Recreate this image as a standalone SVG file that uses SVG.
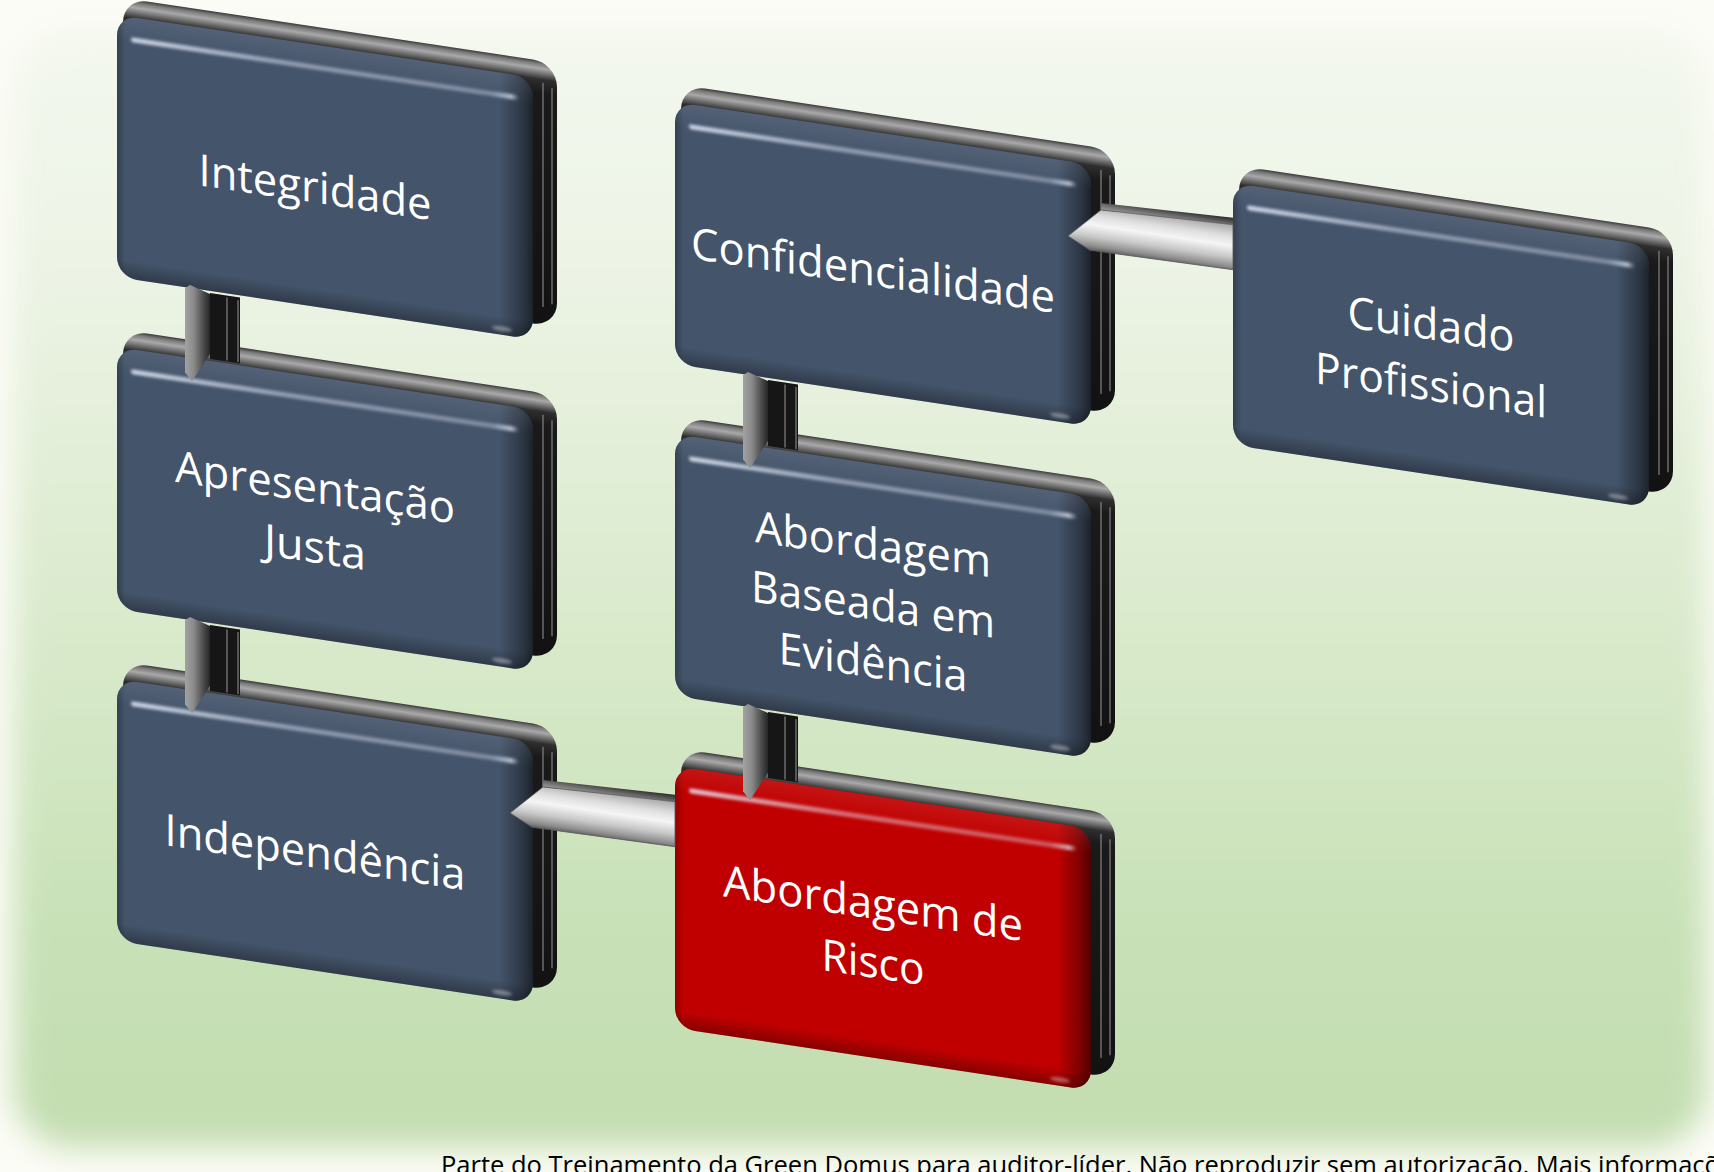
<svg xmlns="http://www.w3.org/2000/svg" width="1714" height="1172" viewBox="0 0 1714 1172">
<defs>
<style>
.slab{fill:url(#slabGrad);}
.stripe{stroke:#8c8c8c;stroke-width:1.3;fill:none;opacity:0.85;}
.blue{fill:#44546A;}
.red{fill:#C00000;}
.shade-x{fill:url(#shadeX);}
.shade-y{fill:url(#shadeY);}
.hl{fill:url(#hlGrad);filter:url(#hlBlur);}
.spot{fill:#ffffff;opacity:0.35;filter:url(#hlBlur);}
.label{font-family:"Open Sans","Noto Sans","DejaVu Sans",sans-serif;font-size:44px;fill:#ffffff;text-anchor:middle;}
.footer{font-family:"Open Sans","Noto Sans","DejaVu Sans",sans-serif;font-size:25.5px;fill:#000000;}
.vside{fill:#161616;}
.vfront{fill:url(#vFrontGrad);}
.htop{fill:url(#hTopGrad);}
.hfront{fill:url(#hFrontGrad);stroke:#5a5a5a;stroke-width:0.8;}
</style>
<linearGradient id="bgGrad" x1="0" y1="0" x2="0" y2="1">
<stop offset="0" stop-color="#F4F8EF"/>
<stop offset="0.2" stop-color="#EDF4E6"/>
<stop offset="0.5" stop-color="#DCEBCF"/>
<stop offset="0.8" stop-color="#C8E1B7"/>
<stop offset="1" stop-color="#C3DDB0"/>
</linearGradient>
<filter id="soft" x="-5%" y="-5%" width="110%" height="110%">
<feGaussianBlur stdDeviation="16"/>
</filter>
<filter id="hlBlur" x="-10%" y="-100%" width="120%" height="300%">
<feGaussianBlur stdDeviation="1.4"/>
</filter>
<linearGradient id="slabGrad" gradientUnits="userSpaceOnUse" x1="0" y1="0" x2="0" y2="270">
<stop offset="0" stop-color="#3a3a3a"/>
<stop offset="0.012" stop-color="#7a7a7a"/>
<stop offset="0.03" stop-color="#a9a9a9"/>
<stop offset="0.05" stop-color="#6c6c6c"/>
<stop offset="0.07" stop-color="#2e2e2e"/>
<stop offset="0.12" stop-color="#1a1a1a"/>
<stop offset="1" stop-color="#121212"/>
</linearGradient>
<linearGradient id="shadeX" x1="0" y1="0" x2="1" y2="0">
<stop offset="0" stop-color="#000" stop-opacity="0.25"/>
<stop offset="0.02" stop-color="#000" stop-opacity="0"/>
<stop offset="0.92" stop-color="#000" stop-opacity="0"/>
<stop offset="0.975" stop-color="#000" stop-opacity="0.35"/>
<stop offset="1" stop-color="#000" stop-opacity="0.6"/>
</linearGradient>
<linearGradient id="shadeY" x1="0" y1="0" x2="0" y2="1">
<stop offset="0" stop-color="#fff" stop-opacity="0.08"/>
<stop offset="0.1" stop-color="#fff" stop-opacity="0"/>
<stop offset="0.93" stop-color="#000" stop-opacity="0"/>
<stop offset="1" stop-color="#000" stop-opacity="0.3"/>
</linearGradient>
<linearGradient id="hlGrad" x1="0" y1="0" x2="1" y2="0">
<stop offset="0" stop-color="#e8f0ff" stop-opacity="0.8"/>
<stop offset="0.4" stop-color="#e8f0ff" stop-opacity="0.45"/>
<stop offset="0.93" stop-color="#e8f0ff" stop-opacity="0.35"/>
<stop offset="0.98" stop-color="#e8f0ff" stop-opacity="0.7"/>
<stop offset="1" stop-color="#e8f0ff" stop-opacity="0"/>
</linearGradient>
<linearGradient id="vFrontGrad" x1="0" y1="0" x2="1" y2="0">
<stop offset="0" stop-color="#a2a2a2"/>
<stop offset="0.35" stop-color="#8a8a8a"/>
<stop offset="0.75" stop-color="#4a4a4a"/>
<stop offset="1" stop-color="#262626"/>
</linearGradient>
<linearGradient id="hTopGrad" x1="0" y1="0" x2="0" y2="1">
<stop offset="0" stop-color="#2a2a2a"/>
<stop offset="0.55" stop-color="#6a6a6a"/>
<stop offset="1" stop-color="#9a9a9a"/>
</linearGradient>
<linearGradient id="hFrontGrad" x1="0" y1="0" x2="0" y2="1">
<stop offset="0" stop-color="#a8a8a8"/>
<stop offset="0.25" stop-color="#dedede"/>
<stop offset="0.45" stop-color="#f5f5f5"/>
<stop offset="0.7" stop-color="#c8c8c8"/>
<stop offset="0.9" stop-color="#8e8e8e"/>
<stop offset="1" stop-color="#5e5e5e"/>
</linearGradient>
</defs>

<rect x="0" y="0" width="1714" height="1172" fill="#FCFCF6"/>
<g id="background">
<rect x="13" y="27" width="1694" height="1121" rx="60" fill="url(#bgGrad)" filter="url(#soft)"/>
</g>

<g id="nodes">
<g id="n-integridade" transform="matrix(1 0.15 0 1 117 -3)">
<rect class="slab" x="6" y="0" width="434" height="264" rx="24"/>
<path class="stripe" d="M426 22V246M435 26V242"/>
<rect class="blue" x="0" y="18" width="416" height="262" rx="20"/>
<rect class="shade-x" x="0" y="18" width="416" height="262" rx="20"/>
<rect class="shade-y" x="0" y="18" width="416" height="262" rx="20"/>
<rect class="hl" x="14" y="38" width="388" height="5" rx="2.5"/>
<ellipse class="spot" cx="385" cy="274" rx="10" ry="2.5"/>
<text class="label" x="198" y="176" textLength="233" lengthAdjust="spacingAndGlyphs">Integridade</text>
</g>

<g id="n-apresentacao" transform="matrix(1 0.15 0 1 117 329)">
<rect class="slab" x="6" y="0" width="434" height="264" rx="24"/>
<path class="stripe" d="M426 22V246M435 26V242"/>
<rect class="blue" x="0" y="18" width="416" height="262" rx="20"/>
<rect class="shade-x" x="0" y="18" width="416" height="262" rx="20"/>
<rect class="shade-y" x="0" y="18" width="416" height="262" rx="20"/>
<rect class="hl" x="14" y="38" width="388" height="5" rx="2.5"/>
<ellipse class="spot" cx="385" cy="274" rx="10" ry="2.5"/>
<text class="label" x="198" y="144" textLength="280" lengthAdjust="spacingAndGlyphs">Apresentação</text>
<text class="label" x="198" y="204" textLength="102" lengthAdjust="spacingAndGlyphs">Justa</text>
</g>

<g id="n-independencia" transform="matrix(1 0.15 0 1 117 661)">
<rect class="slab" x="6" y="0" width="434" height="264" rx="24"/>
<path class="stripe" d="M426 22V246M435 26V242"/>
<rect class="blue" x="0" y="18" width="416" height="262" rx="20"/>
<rect class="shade-x" x="0" y="18" width="416" height="262" rx="20"/>
<rect class="shade-y" x="0" y="18" width="416" height="262" rx="20"/>
<rect class="hl" x="14" y="38" width="388" height="5" rx="2.5"/>
<ellipse class="spot" cx="385" cy="274" rx="10" ry="2.5"/>
<text class="label" x="198" y="177" textLength="301" lengthAdjust="spacingAndGlyphs">Independência</text>
</g>

<g id="n-confidencialidade" transform="matrix(1 0.15 0 1 675 84)">
<rect class="slab" x="6" y="0" width="434" height="264" rx="24"/>
<path class="stripe" d="M426 22V246M435 26V242"/>
<rect class="blue" x="0" y="18" width="416" height="262" rx="20"/>
<rect class="shade-x" x="0" y="18" width="416" height="262" rx="20"/>
<rect class="shade-y" x="0" y="18" width="416" height="262" rx="20"/>
<rect class="hl" x="14" y="38" width="388" height="5" rx="2.5"/>
<ellipse class="spot" cx="385" cy="274" rx="10" ry="2.5"/>
<text class="label" x="198" y="172" textLength="364" lengthAdjust="spacingAndGlyphs">Confidencialidade</text>
</g>

<g id="n-abordagem-evidencia" transform="matrix(1 0.15 0 1 675 416)">
<rect class="slab" x="6" y="0" width="434" height="264" rx="24"/>
<path class="stripe" d="M426 22V246M435 26V242"/>
<rect class="blue" x="0" y="18" width="416" height="262" rx="20"/>
<rect class="shade-x" x="0" y="18" width="416" height="262" rx="20"/>
<rect class="shade-y" x="0" y="18" width="416" height="262" rx="20"/>
<rect class="hl" x="14" y="38" width="388" height="5" rx="2.5"/>
<ellipse class="spot" cx="385" cy="274" rx="10" ry="2.5"/>
<text class="label" x="198" y="114" textLength="236" lengthAdjust="spacingAndGlyphs">Abordagem</text>
<text class="label" x="198" y="174" textLength="244" lengthAdjust="spacingAndGlyphs">Baseada em</text>
<text class="label" x="198" y="232" textLength="189" lengthAdjust="spacingAndGlyphs">Evidência</text>
</g>

<g id="n-abordagem-risco" transform="matrix(1 0.15 0 1 675 748)">
<rect class="slab" x="6" y="0" width="434" height="264" rx="24"/>
<path class="stripe" d="M426 22V246M435 26V242"/>
<rect class="red" x="0" y="18" width="416" height="262" rx="20"/>
<rect class="shade-x" x="0" y="18" width="416" height="262" rx="20"/>
<rect class="shade-y" x="0" y="18" width="416" height="262" rx="20"/>
<rect class="hl" x="14" y="38" width="388" height="5" rx="2.5"/>
<ellipse class="spot" cx="385" cy="274" rx="10" ry="2.5"/>
<text class="label" x="198" y="141" textLength="300" lengthAdjust="spacingAndGlyphs">Abordagem de</text>
<text class="label" x="198" y="200" textLength="103" lengthAdjust="spacingAndGlyphs">Risco</text>
</g>

<g id="n-cuidado" transform="matrix(1 0.15 0 1 1233 165)">
<rect class="slab" x="6" y="0" width="434" height="264" rx="24"/>
<path class="stripe" d="M426 22V246M435 26V242"/>
<rect class="blue" x="0" y="18" width="416" height="262" rx="20"/>
<rect class="shade-x" x="0" y="18" width="416" height="262" rx="20"/>
<rect class="shade-y" x="0" y="18" width="416" height="262" rx="20"/>
<rect class="hl" x="14" y="38" width="388" height="5" rx="2.5"/>
<ellipse class="spot" cx="385" cy="274" rx="10" ry="2.5"/>
<text class="label" x="198" y="145" textLength="167" lengthAdjust="spacingAndGlyphs">Cuidado</text>
<text class="label" x="198" y="206" textLength="232" lengthAdjust="spacingAndGlyphs">Profissional</text>
</g>
</g>

<g id="connectors">
<g id="c-integridade-apresentacao" transform="matrix(1 0.15 0 1 117 -3)">
<path class="vside" d="M93 282H123V348H93Z"/>
<path class="stripe" d="M110 284V347M121 285V347"/>
<path class="vfront" d="M68 281L73 277L93 283V343L75 373L68 365Z"/>
</g>
<g id="c-apresentacao-independencia" transform="matrix(1 0.15 0 1 117 329)">
<path class="vside" d="M93 282H123V348H93Z"/>
<path class="stripe" d="M110 284V347M121 285V347"/>
<path class="vfront" d="M68 281L73 277L93 283V343L75 373L68 365Z"/>
</g>
<g id="c-confidencialidade-evidencia" transform="matrix(1 0.15 0 1 675 84)">
<path class="vside" d="M93 282H123V348H93Z"/>
<path class="stripe" d="M110 284V347M121 285V347"/>
<path class="vfront" d="M68 281L73 277L93 283V343L75 373L68 365Z"/>
</g>
<g id="c-evidencia-risco" transform="matrix(1 0.15 0 1 675 416)">
<path class="vside" d="M93 282H123V348H93Z"/>
<path class="stripe" d="M110 284V347M121 285V347"/>
<path class="vfront" d="M68 281L73 277L93 283V343L75 373L68 365Z"/>
</g>
<g id="c-confidencialidade-cuidado" transform="matrix(1 0.15 0 1 675 84)">
<path class="htop" d="M426 55L558 50V57L426 62Z"/>
<path class="hfront" d="M426 62L558 57V102L415 104L393 93Z"/>
</g>
<g id="c-independencia-risco" transform="matrix(1 0.15 0 1 117 661)">
<path class="htop" d="M426 55L558 50V57L426 62Z"/>
<path class="hfront" d="M426 62L558 57V102L415 104L393 93Z"/>
</g>
</g>

<text class="footer" x="441" y="1174">Parte do Treinamento da Green Domus para auditor-líder. Não reproduzir sem autorização. Mais informações</text>
</svg>
